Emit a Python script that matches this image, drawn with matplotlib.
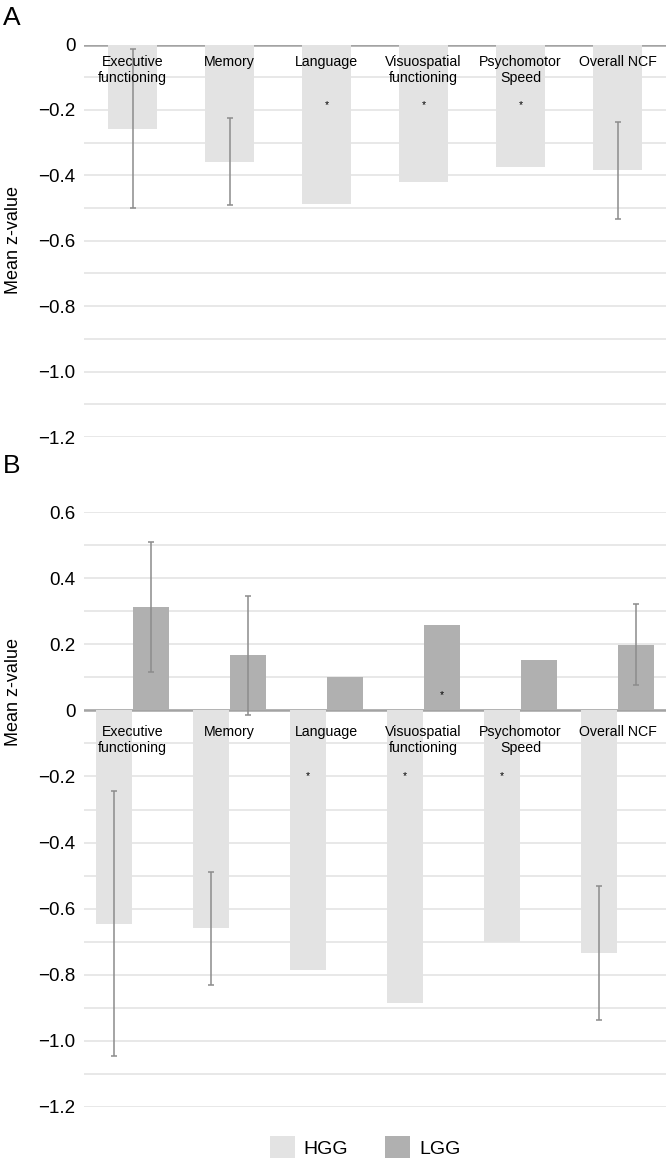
import numpy as np
import matplotlib
matplotlib.use("Agg")
import matplotlib.pyplot as plt
from matplotlib.ticker import MultipleLocator, FuncFormatter
from matplotlib.patches import Patch

plt.rcParams['font.family'] = ['Liberation Sans', 'DejaVu Sans']

# categories
categories = ["Executive\nfunctioning", "Memory", "Language",
              "Visuospatial\nfunctioning", "Psychomotor\nSpeed", "Overall NCF"]

# panel A: HGG only
a_hgg = [-0.258, -0.358, -0.489, -0.419, -0.376, -0.384]
a_hgg_err = [0.243, 0.133, np.nan, np.nan, np.nan, 0.148]
a_sig = [False, False, True, True, True, False]

# panel B: HGG vs LGG
b_hgg = [-0.646, -0.660, -0.785, -0.885, -0.702, -0.734]
b_hgg_err = [0.401, 0.170, np.nan, np.nan, np.nan, 0.202]
b_lgg = [0.313, 0.167, 0.101, 0.260, 0.152, 0.199]
b_lgg_err = [0.196, 0.181, np.nan, np.nan, np.nan, 0.122]
b_hgg_sig = [False, False, True, True, True, False]
b_lgg_sig = [False, False, False, True, False, False]

HGG_COL = '#e3e3e3'
LGG_COL = '#b0b0b0'
ERR_COL = '#8c8c8c'
GRID_COL = '#e6e6e6'
ZERO_COL = '#a3a3a3'

fig = plt.figure(figsize=(6.66, 11.59), dpi=100)
axA = fig.add_axes([84/666, 1 - 437/1159, 582/666, (437 - 44.5)/1159])
axB = fig.add_axes([84/666, 1 - 1106.7/1159, 582/666, (1106.7 - 512.3)/1159])


def fmt(v, pos):
    if abs(v) < 1e-9:
        return '0'
    return f'{v:.1f}'.replace('-', '\u2212')


def style(ax, ymin, ymax):
    ax.set_xlim(-0.5, 5.5)
    ax.set_ylim(ymin, ymax)
    ax.yaxis.set_major_locator(MultipleLocator(0.2))
    ax.yaxis.set_minor_locator(MultipleLocator(0.1))
    ax.yaxis.set_major_formatter(FuncFormatter(fmt))
    ax.grid(axis='y', which='both', color=GRID_COL, lw=1.3)
    ax.set_axisbelow(True)
    ax.set_xticks([])
    ax.tick_params(axis='y', which='both', length=0, labelsize=13.5, pad=6)
    for s in ax.spines.values():
        s.set_visible(False)
    ax.axhline(0, color=ZERO_COL, lw=1.8, zorder=1.5)


x = np.arange(len(categories))
ekw = dict(ecolor=ERR_COL, elinewidth=1.1, capsize=2.5, capthick=1.1)

# panel A
style(axA, -1.2, 0)
axA.bar(x, a_hgg, width=0.51, color=HGG_COL, zorder=2)
axA.errorbar(x, a_hgg, yerr=a_hgg_err, fmt='none', zorder=3, **ekw)
for i, c in enumerate(categories):
    axA.text(i, -0.032, c, ha='center', va='top', fontsize=10.2, linespacing=1.2, zorder=4)
    if a_sig[i]:
        axA.text(i, -0.185, '*', ha='center', va='center', fontsize=7.5, zorder=4)

# panel B
style(axB, -1.2, 0.6)
off = 0.19
axB.bar(x - off, b_hgg, width=0.37, color=HGG_COL, zorder=2)
axB.bar(x + off, b_lgg, width=0.37, color=LGG_COL, zorder=2)
axB.errorbar(x - off, b_hgg, yerr=b_hgg_err, fmt='none', zorder=3, **ekw)
axB.errorbar(x + off, b_lgg, yerr=b_lgg_err, fmt='none', zorder=3, **ekw)
for i, c in enumerate(categories):
    axB.text(i, -0.045, c, ha='center', va='top', fontsize=10.2, linespacing=1.2, zorder=4)
    if b_hgg_sig[i]:
        axB.text(i - off, -0.2, '*', ha='center', va='center', fontsize=7.5, zorder=4)
    if b_lgg_sig[i]:
        axB.text(i + off, 0.045, '*', ha='center', va='center', fontsize=7.5, zorder=4)

# panel letters and y labels
fig.text(12/666, 1 - 18/1159, 'A', fontsize=19, ha='center', va='center')
fig.text(12/666, 1 - 466/1159, 'B', fontsize=19, ha='center', va='center')
fig.text(14/666, 1 - 240/1159, 'Mean z-value', fontsize=13, rotation=90, ha='center', va='center')
fig.text(14/666, 1 - 692/1159, 'Mean z-value', fontsize=13, rotation=90, ha='center', va='center')

handles = [Patch(facecolor=HGG_COL, edgecolor='none'), Patch(facecolor=LGG_COL, edgecolor='none')]
fig.legend(handles, ['HGG', 'LGG'], loc='center', bbox_to_anchor=(365/666, 1 - 1147/1159),
           ncol=2, frameon=False, fontsize=14, handlelength=1.3, handleheight=1.3,
           handletextpad=0.45, columnspacing=1.9)

fig.savefig('out.png', dpi=100)
